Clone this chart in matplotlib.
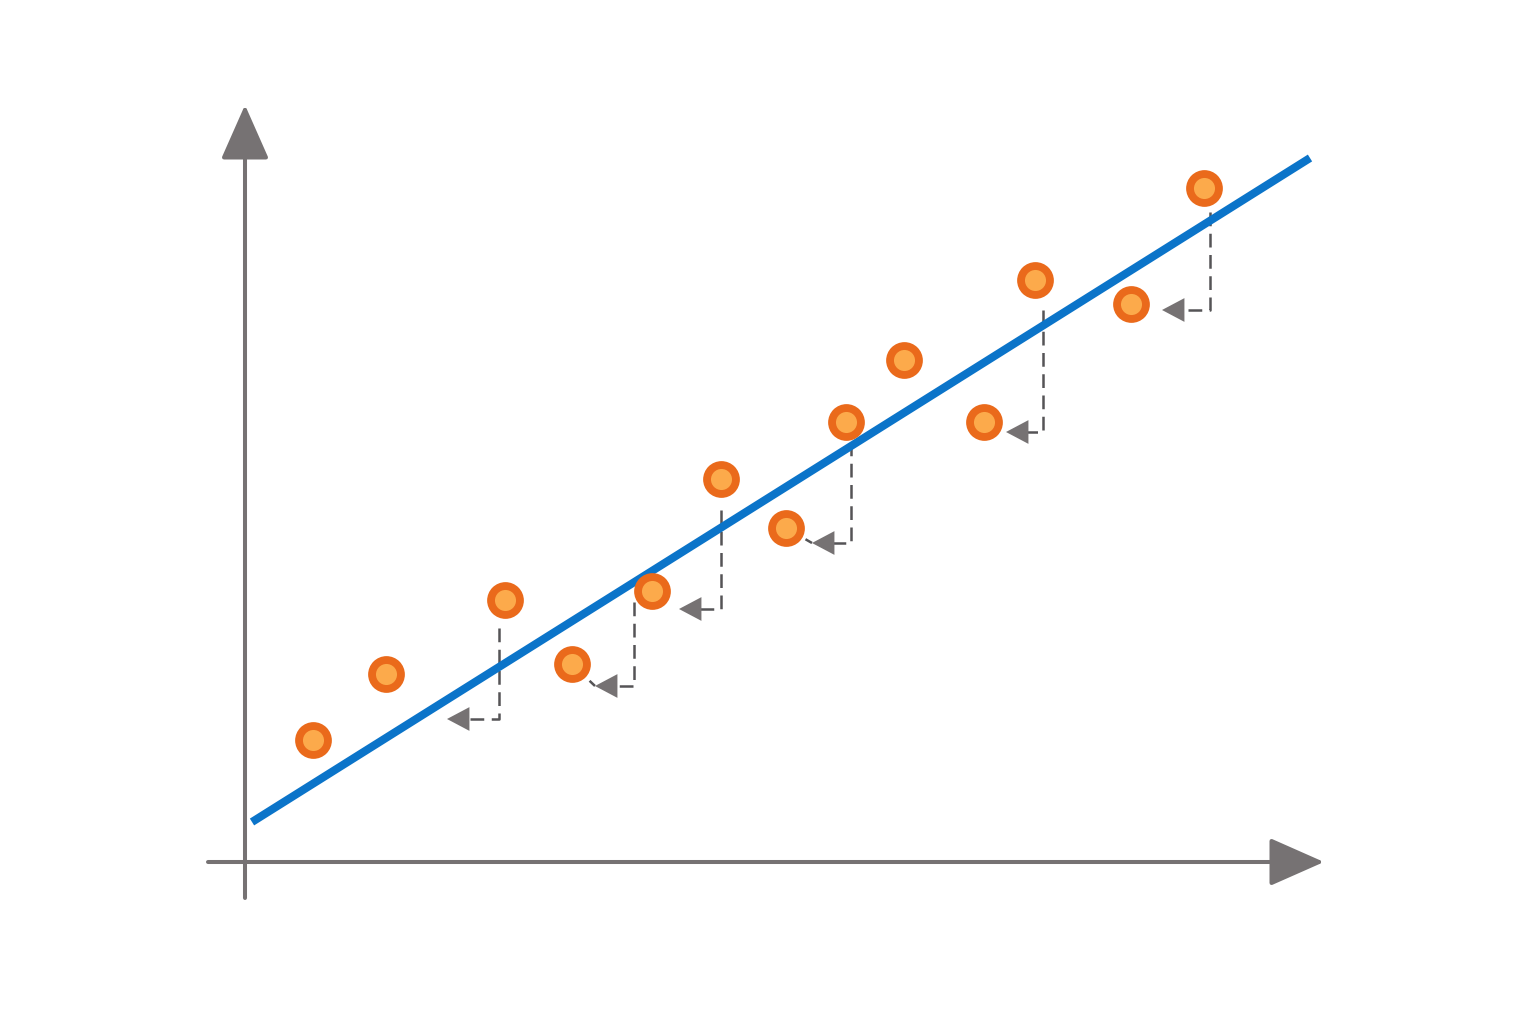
import matplotlib
matplotlib.use("Agg")
import matplotlib.pyplot as plt

# --- DATA (schematic units) ---
point_x = [0.68, 1.41, 2.60, 3.27, 4.07, 4.76, 5.41, 6.01, 6.59, 7.39, 7.90, 8.86, 9.59]
point_y = [1.22, 1.88, 2.62, 1.98, 2.71, 3.83, 3.34, 4.40, 5.02, 4.40, 5.82, 5.58, 6.74]

fit_x = [0.07, 10.65]
fit_y = [0.40, 7.04]

# dashed connectors: vertical x, top y, bottom y, arrow tip x
conn_x = [2.54, 3.89, 4.76, 6.06, 7.98, 9.65]
conn_top = [2.34, 2.60, 3.52, 4.20, 5.52, 6.50]
conn_bot = [1.43, 1.76, 2.53, 3.19, 4.30, 5.52]
conn_tip = [2.02, 3.50, 4.34, 5.67, 7.61, 9.17]
# connectors whose arrow leads on to a point (index of connector, index of point)
conn_to_point = [(1, 3), (3, 6)]

AXIS_COL = "#767273"
LINE_COL = "#0B74C9"
OUTER = "#EA6A1B"
INNER = "#FCAA4B"
DASH_COL = "#555456"

fig = plt.figure(figsize=(15.36, 10.24), dpi=100)
ax = fig.add_axes([0, 0, 1, 1])
ax.set_xlim(-2.45, 12.91)
ax.set_ylim(-1.62, 8.62)
ax.axis("off")

# axes with arrow heads
head = "-|>,head_length=0.95,head_width=0.42"
ax.annotate("", xy=(0, 7.57), xytext=(0, -0.36),
            arrowprops=dict(arrowstyle=head, mutation_scale=36, color=AXIS_COL,
                            lw=2.9, shrinkA=0, shrinkB=0))
ax.annotate("", xy=(10.79, 0), xytext=(-0.37, 0),
            arrowprops=dict(arrowstyle=head, mutation_scale=36, color=AXIS_COL,
                            lw=2.9, shrinkA=0, shrinkB=0))

# regression line
ax.plot(fit_x, fit_y, color=LINE_COL, lw=5.8, solid_capstyle="butt", zorder=3)

# dashed connectors
for i in range(len(conn_x)):
    ax.plot([conn_x[i], conn_x[i], conn_tip[i] + 0.15],
            [conn_top[i], conn_bot[i], conn_bot[i]],
            color=DASH_COL, lw=1.8, dashes=(5.5, 3), zorder=2)
    ax.annotate("", xy=(conn_tip[i], conn_bot[i]),
                xytext=(conn_tip[i] + 0.2, conn_bot[i]),
                arrowprops=dict(arrowstyle="-|>,head_length=0.85,head_width=0.45",
                                mutation_scale=19, color=AXIS_COL, lw=0,
                                shrinkA=0, shrinkB=0), zorder=4)

for ci, pi in conn_to_point:
    ax.plot([conn_tip[ci], point_x[pi]], [conn_bot[ci], point_y[pi]],
            color=DASH_COL, lw=1.8, dashes=(3, 2.5), zorder=2)

# points
ax.scatter(point_x, point_y, s=700, color=OUTER, zorder=5, linewidths=0)
ax.scatter(point_x, point_y, s=230, color=INNER, zorder=6, linewidths=0)

fig.savefig("out.png", dpi=100, facecolor="white")
